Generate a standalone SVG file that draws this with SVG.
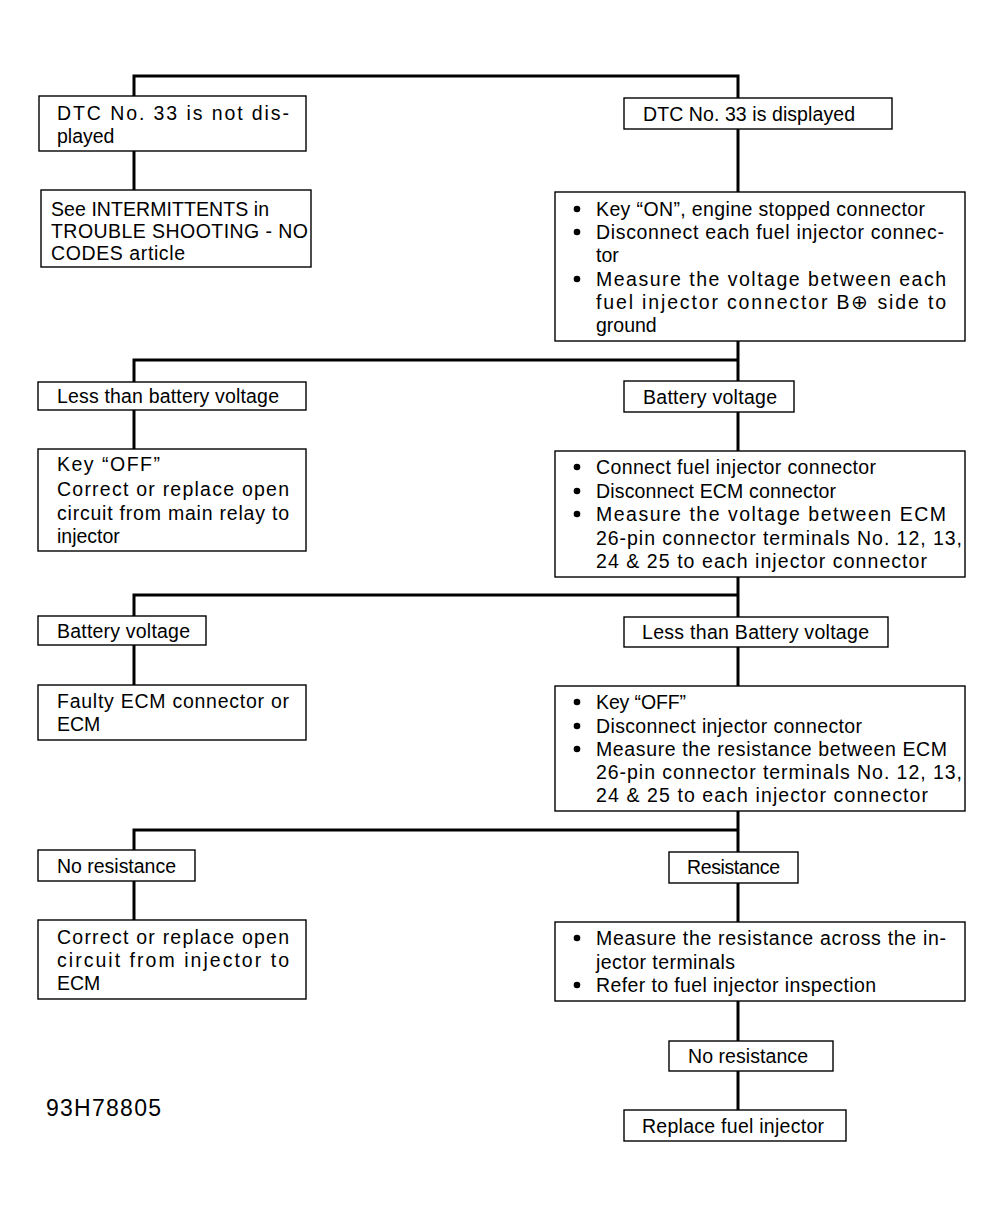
<svg xmlns="http://www.w3.org/2000/svg" width="1003" height="1218" viewBox="0 0 1003 1218">
<style>
.box{fill:#fff;stroke:#000;stroke-width:1.4}
.t{font-family:"Liberation Sans",Arial,sans-serif;font-size:19.5px;fill:#000}
.tb{font-family:"Liberation Sans",Arial,sans-serif;font-size:19.5px;fill:#000}
.c{fill:none;stroke:#000;stroke-width:3}
.b{fill:#000}
</style>
<rect width="1003" height="1218" fill="#fff"/>
<g id="connectors">
<path class="c" d="M134 96V76H738V98"/>
<path class="c" d="M134 151V190"/>
<path class="c" d="M738 129V192"/>
<path class="c" d="M738 341V381M738 360H134V382"/>
<path class="c" d="M134 410V449"/>
<path class="c" d="M738 412V451"/>
<path class="c" d="M738 577V617M738 595H134V616"/>
<path class="c" d="M134 645V685"/>
<path class="c" d="M738 647V686"/>
<path class="c" d="M738 811V852M738 830H134V850"/>
<path class="c" d="M134 881V920"/>
<path class="c" d="M738 883V922"/>
<path class="c" d="M738 1001V1041"/>
<path class="c" d="M738 1071V1110"/>
</g>
<g id="n-not-displayed">
<rect class="box" x="39" y="96" width="267" height="55"/>
<text class="t" x="57" y="120" textLength="232">DTC No. 33 is not dis-</text>
<text class="t" x="57" y="143">played</text>
</g>
<g id="n-intermittents">
<rect class="box" x="41" y="190" width="270" height="77"/>
<text class="tb" x="51" y="216" textLength="218">See INTERMITTENTS in</text>
<text class="tb" x="51" y="238" textLength="257">TROUBLE SHOOTING - NO</text>
<text class="tb" x="51" y="260" textLength="134">CODES article</text>
</g>
<g id="n-displayed">
<rect class="box" x="624" y="98" width="268" height="31"/>
<text class="t" x="643" y="121" textLength="212">DTC No. 33 is displayed</text>
</g>
<g id="n-check1">
<rect class="box" x="555" y="192" width="410" height="149"/>
<circle class="b" cx="577" cy="209" r="3.3"/>
<circle class="b" cx="577" cy="232" r="3.3"/>
<circle class="b" cx="577" cy="279" r="3.3"/>
<text class="t" x="596" y="216" textLength="329">Key “ON”, engine stopped connector</text>
<text class="t" x="596" y="239" textLength="348">Disconnect each fuel injector connec-</text>
<text class="t" x="596" y="262">tor</text>
<text class="t" x="596" y="286" textLength="350">Measure the voltage between each</text>
<text class="t" x="596" y="309" textLength="350">fuel injector connector B⊕ side to</text>
<text class="t" x="596" y="332">ground</text>
</g>
<g id="n-less-batt">
<rect class="box" x="38" y="382" width="268" height="28"/>
<text class="t" x="57" y="403" textLength="222">Less than battery voltage</text>
</g>
<g id="n-keyoff-relay">
<rect class="box" x="38" y="449" width="268" height="102"/>
<text class="t" x="57" y="471" textLength="103">Key “OFF”</text>
<text class="t" x="57" y="496" textLength="232">Correct or replace open</text>
<text class="t" x="57" y="520" textLength="232">circuit from main relay to</text>
<text class="t" x="57" y="543">injector</text>
</g>
<g id="n-batt1">
<rect class="box" x="624" y="381" width="170" height="31"/>
<text class="t" x="643" y="404" textLength="134">Battery voltage</text>
</g>
<g id="n-check2">
<rect class="box" x="555" y="451" width="410" height="126"/>
<circle class="b" cx="577" cy="467" r="3.3"/>
<circle class="b" cx="577" cy="491" r="3.3"/>
<circle class="b" cx="577" cy="514" r="3.3"/>
<text class="t" x="596" y="474" textLength="280">Connect fuel injector connector</text>
<text class="t" x="596" y="498" textLength="240">Disconnect ECM connector</text>
<text class="t" x="596" y="521" textLength="350">Measure the voltage between ECM</text>
<text class="t" x="596" y="545" textLength="366">26-pin connector terminals No. 12, 13,</text>
<text class="t" x="596" y="568" textLength="331">24 &amp; 25 to each injector connector</text>
</g>
<g id="n-batt2">
<rect class="box" x="38" y="616" width="168" height="29"/>
<text class="t" x="57" y="638" textLength="133">Battery voltage</text>
</g>
<g id="n-faulty">
<rect class="box" x="38" y="685" width="268" height="55"/>
<text class="t" x="57" y="708" textLength="232">Faulty ECM connector or</text>
<text class="t" x="57" y="731">ECM</text>
</g>
<g id="n-less-batt2">
<rect class="box" x="624" y="617" width="264" height="30"/>
<text class="t" x="642" y="639" textLength="227">Less than Battery voltage</text>
</g>
<g id="n-check3">
<rect class="box" x="555" y="686" width="410" height="125"/>
<circle class="b" cx="577" cy="702" r="3.3"/>
<circle class="b" cx="577" cy="726" r="3.3"/>
<circle class="b" cx="577" cy="749" r="3.3"/>
<text class="t" x="596" y="709" textLength="90">Key “OFF”</text>
<text class="t" x="596" y="733" textLength="266">Disconnect injector connector</text>
<text class="t" x="596" y="756" textLength="351">Measure the resistance between ECM</text>
<text class="t" x="596" y="779" textLength="366">26-pin connector terminals No. 12, 13,</text>
<text class="t" x="596" y="802" textLength="332">24 &amp; 25 to each injector connector</text>
</g>
<g id="n-nores1">
<rect class="box" x="38" y="850" width="157" height="31"/>
<text class="t" x="57" y="873" textLength="119">No resistance</text>
</g>
<g id="n-correct-ecm">
<rect class="box" x="38" y="920" width="268" height="79"/>
<text class="t" x="57" y="944" textLength="232">Correct or replace open</text>
<text class="t" x="57" y="967" textLength="232">circuit from injector to</text>
<text class="t" x="57" y="990">ECM</text>
</g>
<g id="n-resistance">
<rect class="box" x="669" y="852" width="129" height="31"/>
<text class="t" x="687" y="874" textLength="93">Resistance</text>
</g>
<g id="n-check4">
<rect class="box" x="555" y="922" width="410" height="79"/>
<circle class="b" cx="577" cy="938" r="3.3"/>
<circle class="b" cx="577" cy="985" r="3.3"/>
<text class="t" x="596" y="945" textLength="350">Measure the resistance across the in-</text>
<text class="t" x="596" y="969" textLength="139">jector terminals</text>
<text class="t" x="596" y="992" textLength="280">Refer to fuel injector inspection</text>
</g>
<g id="n-nores2">
<rect class="box" x="669" y="1041" width="164" height="30"/>
<text class="t" x="688" y="1063" textLength="120">No resistance</text>
</g>
<g id="n-replace">
<rect class="box" x="624" y="1110" width="222" height="31"/>
<text class="t" x="642" y="1133" textLength="182">Replace fuel injector</text>
</g>
<text id="figcode" x="46" y="1116" font-family="Liberation Sans,Arial,sans-serif" font-size="23" textLength="115">93H78805</text>
</svg>
